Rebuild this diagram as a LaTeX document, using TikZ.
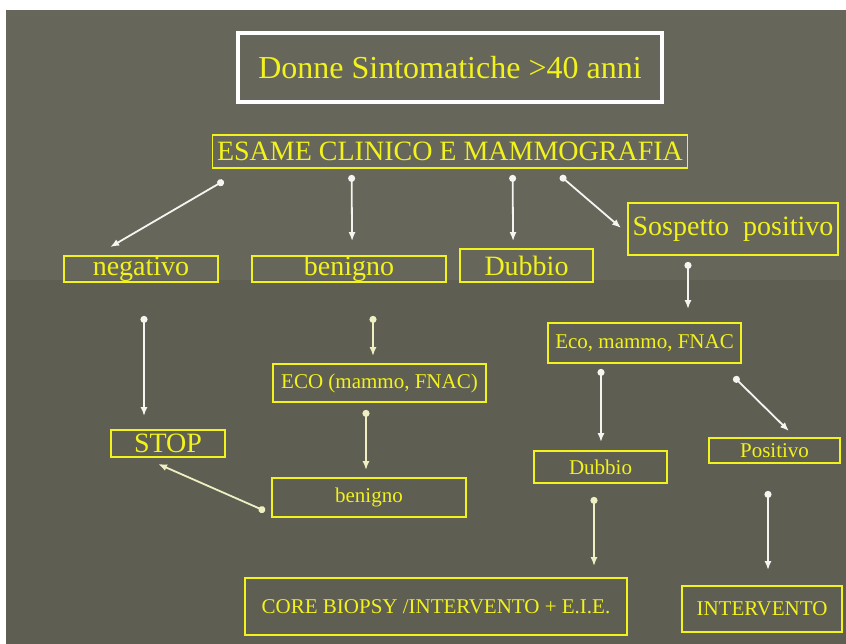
\documentclass[tikz,border=0pt]{standalone}
\usepackage{fontspec}
\setmainfont{Liberation Serif}
\usetikzlibrary{arrows.meta}

\definecolor{slide-top}{HTML}{66675A}
\definecolor{slide-low}{HTML}{5E5F52}
\definecolor{box-yellow}{HTML}{F2F21C}
\definecolor{link-white}{HTML}{F4F4F0}
\definecolor{link-cream}{HTML}{EFEFC4}

\tikzstyle{box}=[rectangle, draw=box-yellow, line width=1.8pt, inner sep=0pt, text=box-yellow]
\tikzstyle{box-big}=[box, font=\fontsize{28}{30}\selectfont]
\tikzstyle{box-small}=[box, font=\fontsize{21}{23}\selectfont]
\tikzstyle{link}=[line width=1.8pt, arrows={Circle[length=7pt]-Latex[length=9pt,width=7pt]}]
\tikzstyle{link-w}=[link, draw=link-white, fill=link-white]
\tikzstyle{link-c}=[link, draw=link-cream, fill=link-cream]

\begin{document}
\begin{tikzpicture}[x=1pt, y=-1pt]
  \useasboundingbox (0,0) rectangle (846,644);
  \fill[white] (0,0) rectangle (846,644);
  \fill[slide-top] (6,10) rectangle (846,644);
  \fill[slide-low] (6,280) rectangle (846,644);

  % titolo
  \node (title) at (450, 67.5)
        [rectangle, draw=white, line width=4pt, minimum width=424pt, minimum height=69pt,
         text=box-yellow, font=\fontsize{32}{34}\selectfont] {Donne Sintomatiche >40 anni};

  % primo livello
  \node (esame) at (450, 151.5)
        [box-big, minimum width=475pt, minimum height=33pt] {ESAME CLINICO E MAMMOGRAFIA};
  \node (negativo) at (141, 269)
        [box-big, minimum width=154pt, minimum height=26pt] {negativo};
  \node (benigno) at (349, 269)
        [box-big, minimum width=194pt, minimum height=26pt] {benigno};
  \node (dubbio) at (526.5, 265.5)
        [box-big, minimum width=133pt, minimum height=33pt] {Dubbio};
  \node (sospetto) at (733, 229)
        [box-big, minimum width=210pt, minimum height=52pt] {Sospetto\ \ positivo};

  % secondo livello
  \node (eco) at (644.5, 343)
        [box-small, minimum width=193pt, minimum height=40pt] {Eco, mammo, FNAC};
  \node (eco-fnac) at (379.5, 383)
        [box-small, minimum width=213pt, minimum height=38pt] {ECO (mammo, FNAC)};
  \node (stop) at (168, 443.5)
        [box-big, minimum width=114pt, minimum height=27pt] {STOP};
  \node (benigno2) at (369, 497.5)
        [box-small, minimum width=194pt, minimum height=39pt] {benigno};
  \node (dubbio2) at (600.5, 467)
        [box-small, minimum width=133pt, minimum height=32pt] {Dubbio};
  \node (positivo) at (774.5, 450.5)
        [box-small, minimum width=131pt, minimum height=25pt] {Positivo};

  % esiti
  \node (core) at (436, 606.5)
        [box-small, minimum width=382pt, minimum height=57pt] {CORE BIOPSY /INTERVENTO + E.I.E.};
  \node (intervento) at (762, 609)
        [box-small, minimum width=160pt, minimum height=46pt] {INTERVENTO};

  % frecce
  \draw[link-w] ([shift={(12,12)}]esame.south west) -- ([shift={(47,-8)}]negativo.north west);
  \draw[link-w] ([shift={(140,6)}]esame.south west) -- ([shift={(101,-14)}]benigno.north west);
  \draw[link-w] ([shift={(301,6)}]esame.south west) -- ([shift={(54,-7)}]dubbio.north west);
  \draw[link-w] ([shift={(-128,7)}]esame.south east) -- ([shift={(-6,-1)}]sospetto.west);
  \draw[link-w] ([shift={(-45,6)}]sospetto.south) -- ([shift={(43.5,-13)}]eco.north);
  \draw[link-w] ([shift={(3,33)}]negativo.south) -- ([shift={(-24,-13)}]stop.north);
  \draw[link-c] ([shift={(24,33)}]benigno.south) -- ([shift={(-6.5,-7)}]eco-fnac.north);
  \draw[link-c] ([shift={(-13.5,7)}]eco-fnac.south) -- ([shift={(-3,-7)}]benigno2.north);
  \draw[link-c] ([shift={(-6,13.5)}]benigno2.west) -- ([shift={(-10,6)}]stop.south);
  \draw[link-w] ([shift={(-43.5,5)}]eco.south) -- ([shift={(0.5,-8)}]dubbio2.north);
  \draw[link-w] ([shift={(-8,13)}]eco.south east) -- ([shift={(14.5,-6)}]positivo.north);
  \draw[link-c] ([shift={(-6.5,13)}]dubbio2.south) -- ([shift={(158,-11)}]core.north);
  \draw[link-w] ([shift={(-6.5,27)}]positivo.south) -- ([shift={(6,-15)}]intervento.north);
\end{tikzpicture}
\end{document}
